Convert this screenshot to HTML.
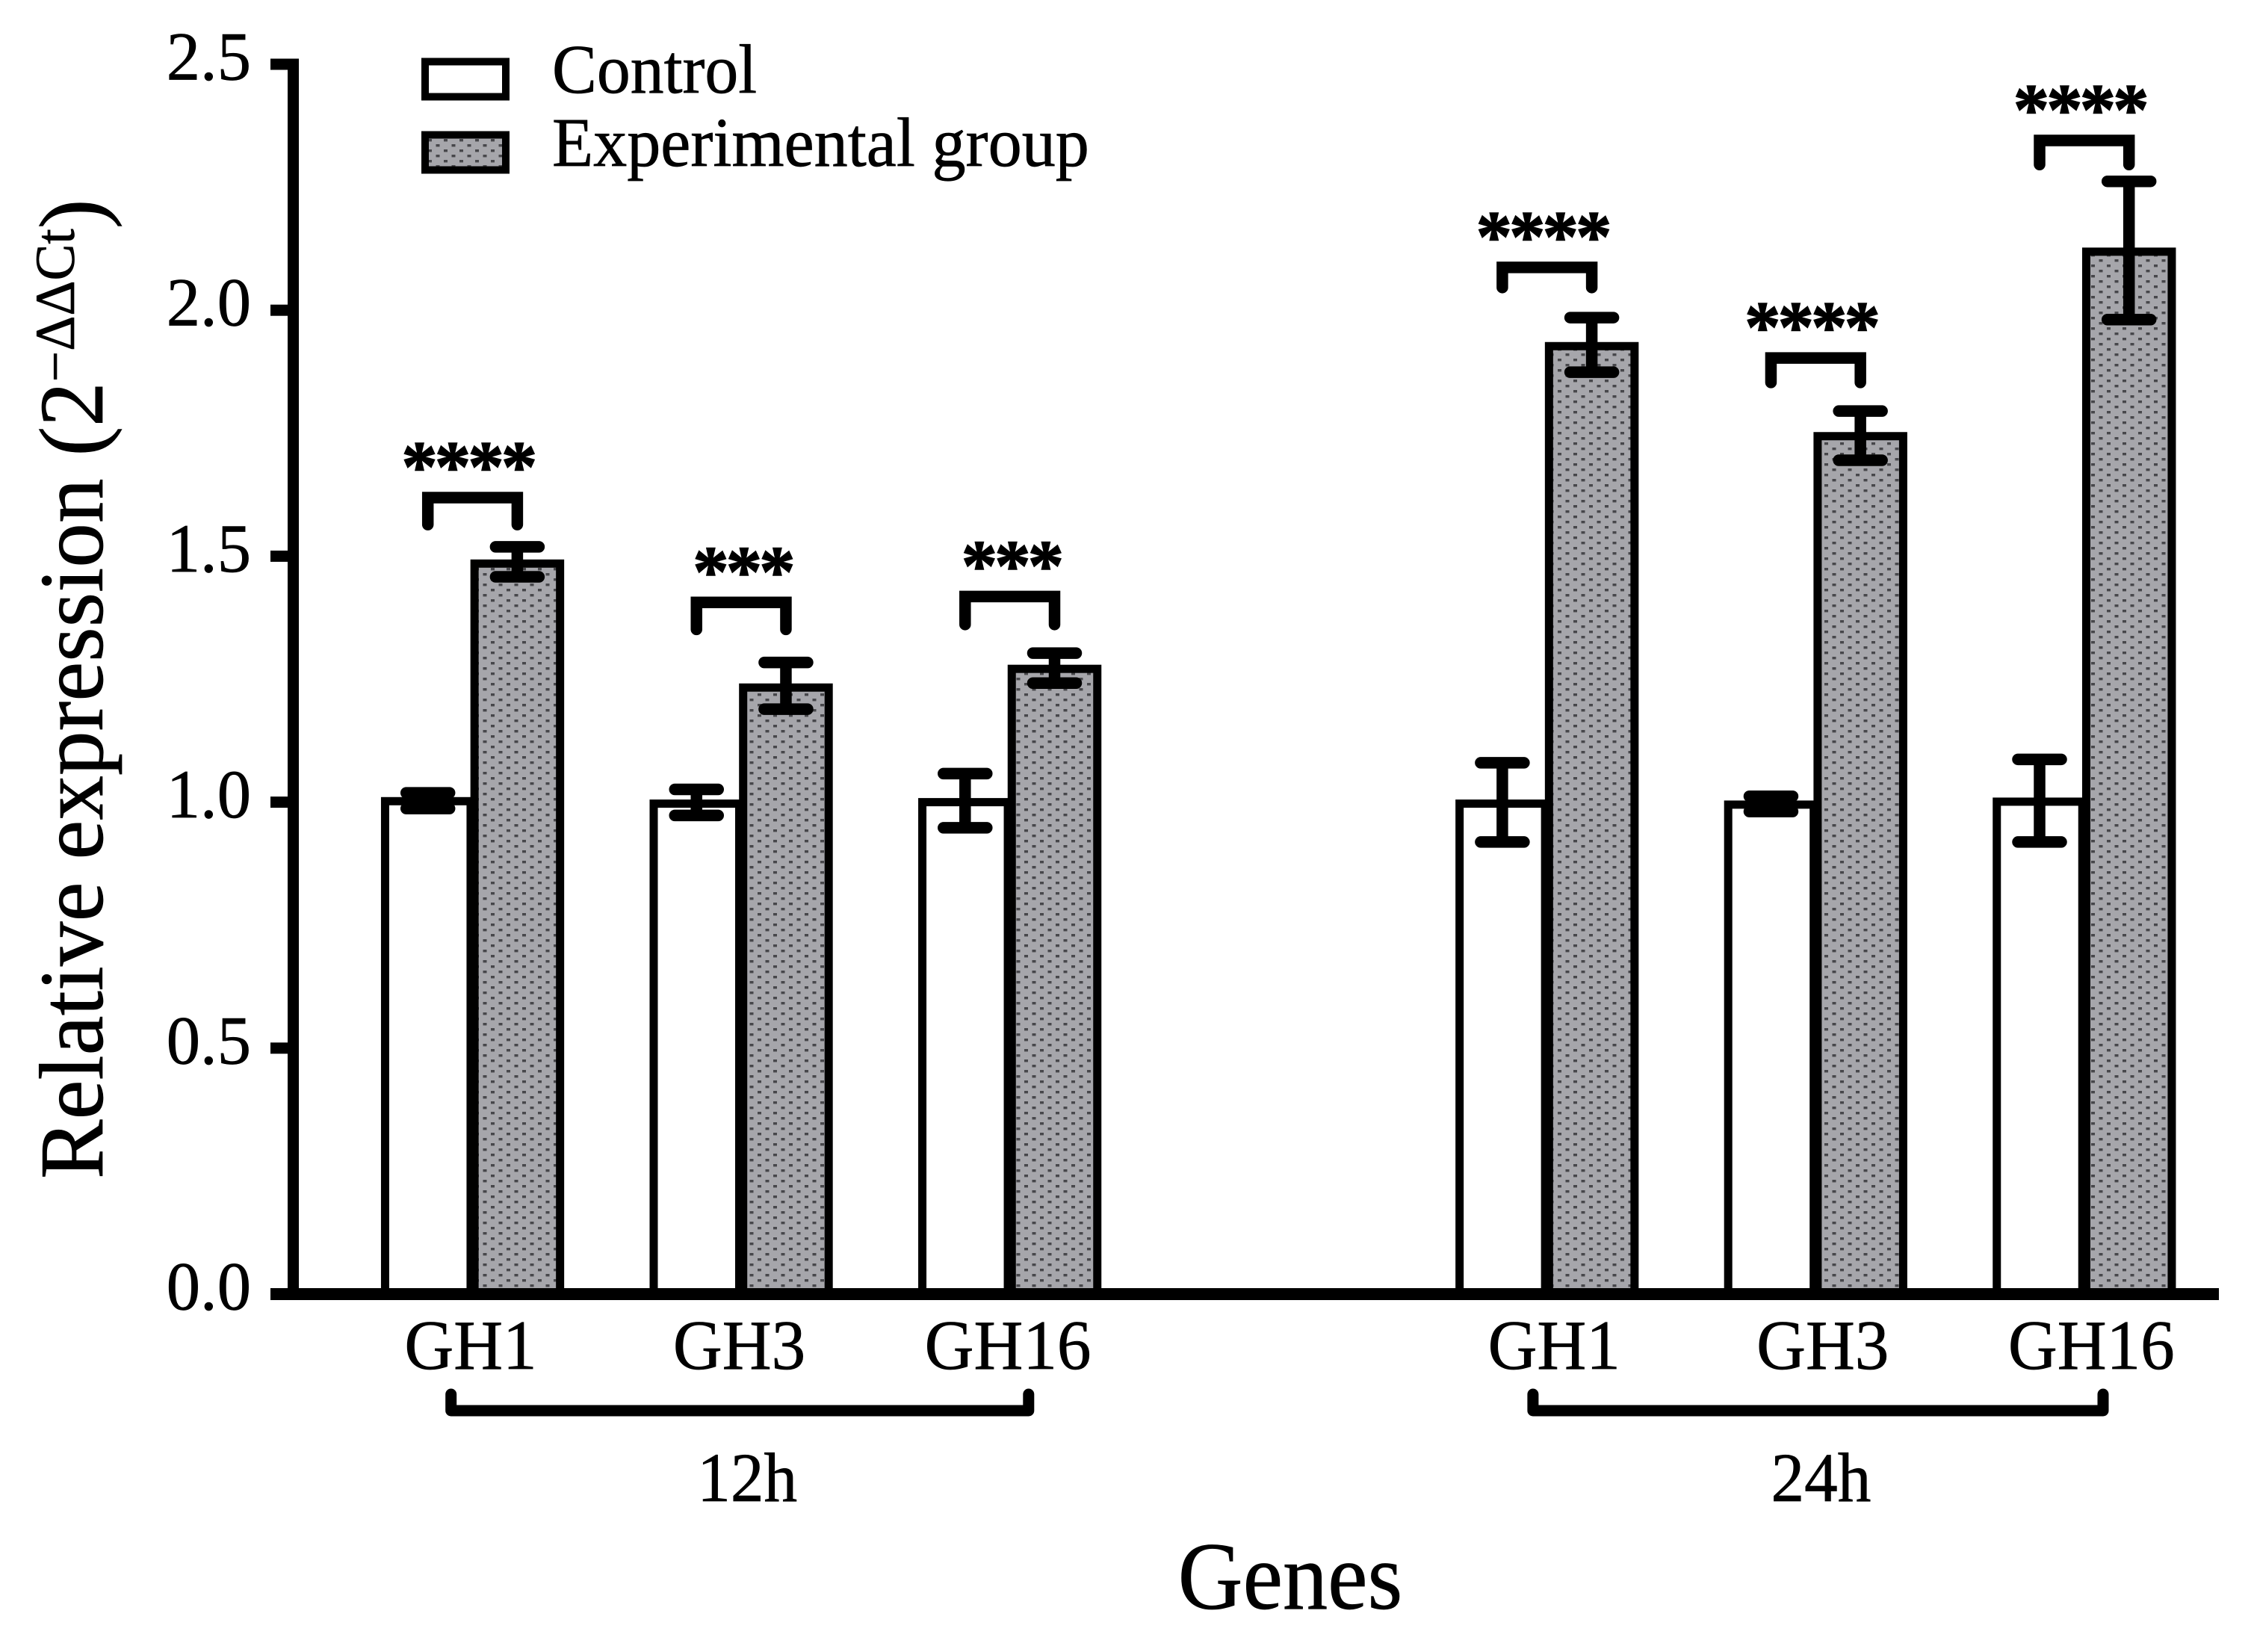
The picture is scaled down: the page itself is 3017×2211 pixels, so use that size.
<!DOCTYPE html>
<html lang="en">
<head>
<meta charset="utf-8">
<title>Relative expression of GH genes</title>
<style>
html,body{margin:0;padding:0;background:#fff;}
svg{display:block;}
text{font-family:"Liberation Serif","DejaVu Serif",serif;fill:#000;stroke:#000;stroke-width:0.7px;}
</style>
</head>
<body>
<svg id="chart" xmlns="http://www.w3.org/2000/svg" width="3017" height="2211" viewBox="0 0 3017 2211">
  <defs>
    <pattern id="dots" patternUnits="userSpaceOnUse" width="21" height="14" x="4" y="2">
      <rect width="21" height="14" fill="#a6a6ab"></rect>
      <rect x="2" y="2" width="5" height="3.4" fill="#47474b"></rect>
      <rect x="12.5" y="9" width="5" height="3.4" fill="#47474b"></rect>
    </pattern>
  </defs>
  <rect width="3017" height="2211" fill="#fff"></rect>
  <g id="bars"></g>
  <g id="errors"></g>
  <g id="axes"></g>
  <g id="annotations"></g>
  <g id="labels"></g>

  <text transform="translate(137,1578) rotate(-90) scale(0.978,1)" font-size="122">Relative expression (2<tspan font-size="75" dy="-38">−ΔΔCt</tspan><tspan dy="38">)</tspan></text>
  <text transform="translate(1727,2153) scale(0.94,1)" font-size="128" text-anchor="middle">Genes</text>

  <g>
    <rect x="569" y="82.5" width="108" height="47" fill="#fff" stroke="#000" stroke-width="10"></rect>
    <text transform="translate(739,124) scale(0.965,1)" font-size="93">Control</text>
    <rect x="569" y="180.5" width="108" height="47" fill="url(#dots)" stroke="#000" stroke-width="10"></rect>
    <text transform="translate(739,222) scale(0.97,1)" font-size="93">Experimental group</text>
  </g>
</svg>
<script>
// ---- chart data ----
const genes = ['GH1', 'GH3', 'GH16', 'GH1', 'GH3', 'GH16'];
const timeSlots = [0, 1, 2, 4, 5, 6];
const controlValues = [1.002, 0.997, 1.000, 0.997, 0.995, 1.001];
const controlUpper = [1.019, 1.026, 1.058, 1.080, 1.012, 1.087];
const controlLower = [0.987, 0.973, 0.948, 0.919, 0.981, 0.919];
const experimentalValues = [1.485, 1.233, 1.271, 1.927, 1.744, 2.119];
const experimentalUpper = [1.519, 1.284, 1.303, 1.985, 1.795, 2.262];
const experimentalLower = [1.458, 1.189, 1.242, 1.874, 1.695, 1.981];
const significance = ['****', '***', '***', '****', '****', '****'];
const bracketTop = [1.619, 1.406, 1.418, 2.087, 1.903, 2.345];
const bracketBottom = [1.552, 1.339, 1.349, 2.034, 1.841, 2.284];
const yTicks = [0, 0.5, 1, 1.5, 2, 2.5];
const yTickLabels = ['0.0', '0.5', '1.0', '1.5', '2.0', '2.5'];
const timeGroups = ['12h', '24h'];

// ---- axis functions ----
const Y_ZERO = 1732, Y_UNIT = 658.4;
function yScale(v) { return Y_ZERO - v * Y_UNIT; }
const SLOT_WIDTH = 359.55, CONTROL_CENTER = 572.7, BAR_OFFSET = 119.7, BAR_W = 114.5, STROKE = 11;
function xControl(i) { return CONTROL_CENTER + timeSlots[i] * SLOT_WIDTH; }
function xExperimental(i) { return xControl(i) + BAR_OFFSET; }
function xGeneLabel(i) { return 632.5 + timeSlots[i] * SLOT_WIDTH + (timeSlots[i] > 3 ? 9.5 : -2.5); }

const NS = 'http://www.w3.org/2000/svg';
function mk(parent, tag, attrs, txt) {
  const e = document.createElementNS(NS, tag);
  for (const k in attrs) e.setAttribute(k, attrs[k]);
  if (txt !== undefined) e.textContent = txt;
  parent.appendChild(e);
  return e;
}
const barsG = document.getElementById('bars');
const errG = document.getElementById('errors');
const axesG = document.getElementById('axes');
const annG = document.getElementById('annotations');
const labG = document.getElementById('labels');

function drawBar(cx, v, fill) {
  const top = yScale(v);
  return mk(barsG, 'rect', { x: cx - BAR_W / 2, y: top, width: BAR_W, height: Y_ZERO - top, fill: fill, stroke: '#000', 'stroke-width': STROKE });
}
function drawError(cx, up, low) {
  const g = mk(errG, 'path', {
    d: 'M' + cx + ' ' + yScale(up) + 'V' + yScale(low) +
       'M' + (cx - 29) + ' ' + yScale(up) + 'H' + (cx + 29) +
       'M' + (cx - 29) + ' ' + yScale(low) + 'H' + (cx + 29),
    fill: 'none', stroke: '#000', 'stroke-width': 15.5, 'stroke-linecap': 'round'
  });
  return g;
}

genes.forEach(function (gene, i) {
  const c = drawBar(xControl(i), controlValues[i], '#fff');
  
  
  const x = drawBar(xExperimental(i), experimentalValues[i], 'url(#dots)');
  
  

  const ec = drawError(xControl(i), controlUpper[i], controlLower[i]);
  
  
  const ex = drawError(xExperimental(i), experimentalUpper[i], experimentalLower[i]);
  
  

  const by = yScale(bracketTop[i]), bb = yScale(bracketBottom[i]) - 8;
  const bracket = mk(annG, 'path', {
    d: 'M' + xControl(i) + ' ' + bb + 'V' + by + 'H' + xExperimental(i) + 'V' + bb,
    fill: 'none', stroke: '#000', 'stroke-width': 15.5, 'stroke-linecap': 'round', 'stroke-linejoin': 'miter'
  });
  
  

  const starShift = significance[i].length === 4 ? -6 : 2;
  const stars = mk(annG, 'text', {
    x: (xControl(i) + xExperimental(i)) / 2 + starShift, y: by - 9,
    'font-size': 96, 'font-weight': 'bold', 'text-anchor': 'middle',
    style: 'stroke-width:1.6px;letter-spacing:-3.5px'
  }, significance[i]);
  
  

  const lab = mk(labG, 'text', {
    transform: 'translate(' + xGeneLabel(i) + ',1832) scale(0.97,1)', 'font-size': 94, 'text-anchor': 'middle'
  }, gene);
  
  
});

// axes
const yAxis = mk(axesG, 'rect', { x: 385, y: yScale(2.5) - 7, width: 15, height: Y_ZERO - yScale(2.5) + 15, fill: '#000' });


const xAxis = mk(axesG, 'rect', { x: 362, y: Y_ZERO - 8, width: 2970 - 362, height: 16, fill: '#000' });



yTicks.forEach(function (t, i) {
  const tick = mk(axesG, 'rect', { x: 362, y: yScale(t) - 7.5, width: 38, height: 15, fill: '#000' });
  
  
  const lab = mk(labG, 'text', {
    transform: 'translate(336,' + (yScale(t) + 20.5) + ') scale(0.985,1)', 'font-size': 92, 'text-anchor': 'end'
  }, yTickLabels[i]);
  
  
});

// time-group brackets
const groupSpans = [[0, 2], [3, 5]];
timeGroups.forEach(function (name, g) {
  const span = groupSpans[g];
  const shift = g === 0 ? 0 : 10;
  const x1 = xControl(span[0]) + 31 + shift, x2 = xControl(span[1]) + 85 + shift - (g === 0 ? 0 : 10);
  const br = mk(annG, 'path', {
    d: 'M' + x1 + ' 1866V1888H' + x2 + 'V1866',
    fill: 'none', stroke: '#000', 'stroke-width': 15, 'stroke-linecap': 'round', 'stroke-linejoin': 'round'
  });
  
  
  const t = mk(labG, 'text', {
    transform: 'translate(' + ((x1 + x2) / 2 + (g === 0 ? 10 : 4)) + ',2009) scale(0.96,1)', 'font-size': 93, 'text-anchor': 'middle'
  }, name);
  
  
});
</script>
</body>
</html>
